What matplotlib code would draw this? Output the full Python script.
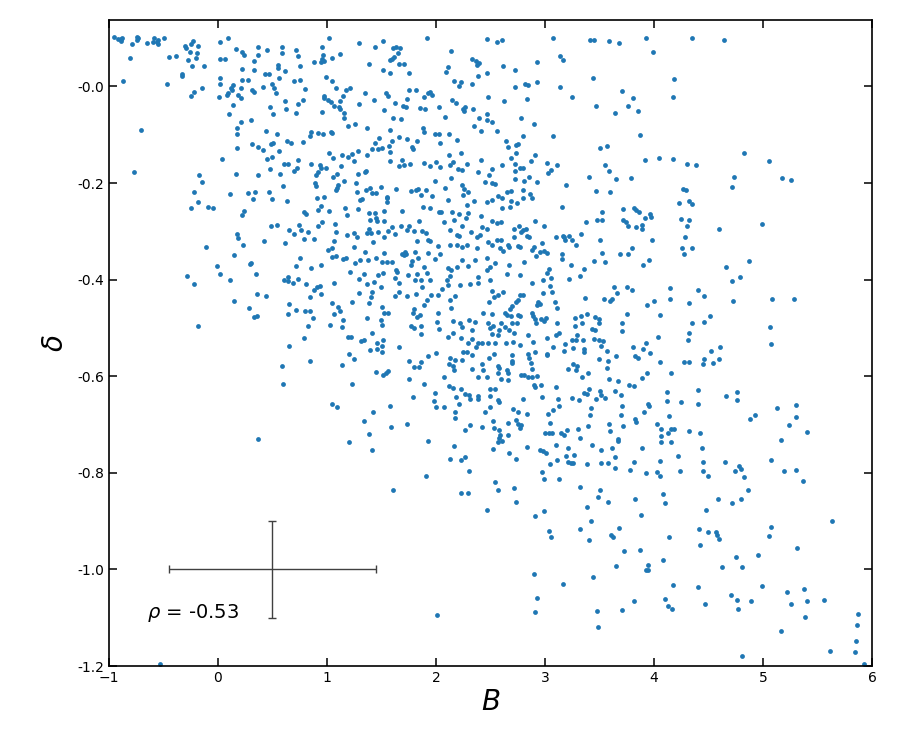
import matplotlib
matplotlib.use("Agg")
import matplotlib.pyplot as plt
import numpy as np

# ---- data, grouped by region ----
b_r1c1 = [-0.954,-0.915,-0.893,-0.884,-0.890,-0.746,-0.731,-0.740,-0.792,-0.646,
          -0.584,-0.594,-0.563,-0.554,-0.548,-0.493,-0.808,-0.869,-0.450,-0.389,
          -0.471,-0.303,-0.297,-0.248,-0.227,-0.181,-0.257,-0.196,-0.205,-0.272,
          -0.236,-0.129,-0.328,-0.334,-0.150,-0.217,-0.248,-0.701,-0.774,0.018,
          0.088,0.162,0.217,0.238,0.370,0.452,0.584,0.590,0.712,0.731,
          0.021,0.064,0.223,0.330,0.370,0.431,0.468,0.333,0.553,0.553,
          0.614,0.559,0.018,0.018,0.134,0.119,0.125,0.094,0.009,0.079,
          0.180,0.211,0.217,0.278,0.309,0.330,0.410,0.498,0.514,0.529,
          0.700,0.752,0.211,0.137,0.101,0.208,0.299,0.480,0.501,0.614,
          0.621,0.712,0.737,0.177,0.177,0.171,0.039,0.312,0.370,0.413,
          0.437,0.538,0.483,0.507,0.559,0.492,0.452,0.633,0.666,0.731,
          0.721,0.700,0.639,0.608,0.477,0.568,0.165,0.367,-0.175,-0.150,
          0.593,-0.221,-0.181,-0.248,-0.095,-0.043,0.113,0.272,0.339,0.321,
          0.471,0.498,0.636,0.235,0.220,0.486,0.544,0.651,0.700,0.171,
          0.743]
d_r1c1 = [0.102,0.099,0.098,0.101,0.094,0.103,0.101,0.097,0.087,0.090,
          0.101,0.091,0.091,0.097,0.087,0.101,0.059,0.011,0.061,0.063,
          0.005,0.084,0.080,0.087,0.094,0.083,0.072,0.070,0.059,0.055,
          0.042,0.042,0.025,0.021,-0.003,-0.011,-0.019,-0.091,-0.177,0.092,
          0.101,0.077,0.072,0.065,0.082,0.075,0.081,0.070,0.075,0.063,
          0.056,0.056,0.036,0.053,0.065,0.026,0.025,0.034,0.044,0.039,
          0.032,0.018,0.018,0.006,0.003,-0.004,-0.008,-0.014,-0.022,-0.018,
          -0.017,-0.004,0.013,0.013,-0.008,-0.011,-0.001,0.006,-0.004,-0.014,
          0.012,0.013,-0.025,-0.039,-0.058,-0.073,-0.070,-0.042,-0.057,-0.030,
          -0.047,-0.056,-0.037,-0.087,-0.099,-0.127,-0.151,-0.120,-0.126,-0.132,
          -0.092,-0.099,-0.120,-0.117,-0.134,-0.146,-0.151,-0.113,-0.118,-0.152,
          -0.168,-0.175,-0.160,-0.161,-0.170,-0.181,-0.182,-0.184,-0.183,-0.197,
          -0.207,-0.218,-0.239,-0.252,-0.250,-0.251,-0.222,-0.220,-0.218,-0.233,
          -0.218,-0.233,-0.237,-0.258,-0.266,-0.288,-0.286,-0.297,-0.306,-0.306,
          -0.286]

b_r1c2 = [1.021,1.296,1.516,1.443,1.914,2.471,0.957,0.966,0.951,0.945,
          0.975,0.880,1.048,1.122,0.755,1.608,1.633,1.669,1.648,1.611,
          1.578,1.593,1.663,1.703,1.385,1.510,1.578,1.749,2.137,2.110,
          2.091,2.162,2.226,2.214,2.327,2.367,2.397,2.373,2.382,2.471,
          2.333,0.990,1.042,1.085,1.171,1.211,1.149,1.122,1.110,1.159,
          1.152,1.195,1.256,0.969,0.975,1.012,1.033,1.067,1.116,0.954,
          0.801,0.782,1.345,1.428,1.290,1.519,1.538,1.559,1.623,1.694,
          1.724,1.730,1.755,1.813,1.886,1.929,1.945,1.963,1.850,1.902,
          2.030,2.143,2.183,2.247,2.269,2.257,2.336,2.079,2.397,2.351,
          2.480,2.464,1.602,1.675,1.363,1.575,1.480,1.437,1.464,1.501,
          1.571,1.599,1.657,1.737,1.776,1.789,1.822,1.883,1.889,1.987,
          2.027,2.036,2.122,2.195,2.412,2.467,0.776,0.856,0.841,0.920,
          0.966,1.036,1.048,1.021,1.052,1.140,1.189,1.232,1.244,1.287,
          1.363,1.412,1.575,1.575,1.691,1.663,1.709,1.764,1.893,1.945,
          2.003,2.036,2.119,2.226,2.125,2.156,2.198,2.235,2.287,2.415,
          2.382,2.446,2.489,0.853,0.932,0.945,0.990,0.917,0.899,0.889,
          0.899,1.128,1.094,1.058,1.101,1.159,1.287,1.348,1.360,1.269,
          1.278,1.305,1.287,1.324,1.360,1.391,1.415,1.452,1.495,1.553,
          1.547,1.553,1.633,1.770,1.813,1.838,1.862,1.908,1.963,1.883,
          1.945,1.987,2.085,2.113,2.140,2.238,2.253,2.293,2.247,2.287,
          2.345,2.467,2.412,0.908,0.972,0.914,0.804,0.786,0.945,1.018,
          1.079,1.091,1.165,1.183,1.385,1.391,1.443,1.449,1.458,1.526,
          1.526,1.385,1.464,1.562,1.593,1.685,1.679,1.730,1.795,1.755,
          1.844,1.868,2.024,2.042,2.076,2.165,2.146,2.210,2.235,2.272,
          2.296,2.324,2.419,2.467,0.764,0.828,0.920,0.951,1.073,1.082,
          1.180,1.250,1.275,1.370,1.403,1.526,1.623,1.905,2.125,2.189,
          2.214,2.373,2.403]
d_r1c2 = [0.101,0.090,0.095,0.081,0.101,0.098,0.082,0.066,0.056,0.051,
          0.052,0.051,0.058,0.067,0.043,0.080,0.082,0.080,0.070,0.061,
          0.054,0.057,0.047,0.046,0.046,0.034,0.027,0.027,0.074,0.041,
          0.029,0.012,0.010,0.001,0.056,0.052,0.049,0.044,0.022,0.027,
          0.005,0.020,0.012,-0.004,-0.008,-0.004,-0.019,-0.030,-0.043,-0.056,
          -0.065,-0.081,-0.077,-0.019,-0.023,-0.028,-0.032,-0.040,-0.047,-0.053,
          -0.006,-0.028,-0.014,-0.028,-0.037,-0.048,-0.014,-0.019,-0.034,-0.040,
          -0.043,-0.026,-0.008,-0.008,-0.022,-0.014,-0.012,-0.018,-0.044,-0.046,
          -0.042,-0.029,-0.034,-0.046,-0.043,-0.051,-0.047,-0.063,-0.066,-0.081,
          -0.022,-0.058,-0.066,-0.067,-0.087,-0.090,-0.106,-0.118,-0.130,-0.127,
          -0.123,-0.112,-0.104,-0.109,-0.126,-0.130,-0.112,-0.087,-0.094,-0.098,
          -0.099,-0.117,-0.099,-0.111,-0.092,-0.070,-0.116,-0.095,-0.103,-0.096,
          -0.098,-0.094,-0.097,-0.137,-0.148,-0.141,-0.146,-0.139,-0.154,-0.134,
          -0.142,-0.129,-0.135,-0.155,-0.152,-0.165,-0.163,-0.161,-0.159,-0.164,
          -0.156,-0.166,-0.141,-0.137,-0.163,-0.157,-0.171,-0.173,-0.160,-0.153,
          -0.178,-0.197,-0.183,-0.160,-0.163,-0.168,-0.168,-0.177,-0.183,-0.201,
          -0.206,-0.164,-0.182,-0.188,-0.204,-0.196,-0.182,-0.178,-0.175,-0.199,
          -0.219,-0.235,-0.253,-0.233,-0.214,-0.210,-0.221,-0.220,-0.208,-0.228,
          -0.232,-0.239,-0.212,-0.217,-0.214,-0.213,-0.225,-0.214,-0.226,-0.250,
          -0.251,-0.196,-0.210,-0.235,-0.189,-0.204,-0.212,-0.218,-0.225,-0.246,
          -0.237,-0.239,-0.268,-0.231,-0.228,-0.255,-0.265,-0.261,-0.247,-0.258,
          -0.215,-0.210,-0.252,-0.266,-0.263,-0.277,-0.263,-0.272,-0.278,-0.258,
          -0.278,-0.295,-0.301,-0.299,-0.291,-0.258,-0.288,-0.297,-0.299,-0.290,
          -0.279,-0.299,-0.259,-0.259,-0.280,-0.277,-0.261,-0.265,-0.290,-0.272,
          -0.262,-0.301,-0.291,-0.295,-0.297,-0.301,-0.290,-0.280,-0.284,-0.302,
          -0.308,-0.303,-0.311,-0.304,-0.304,-0.311,-0.306,-0.304,-0.298,-0.308,
          -0.309,-0.311,-0.308]

b_r1c3 = [2.557,2.609,3.077,3.416,3.453,3.588,3.679,3.930,3.994,2.924,
          2.618,2.728,3.135,3.166,3.444,2.725,2.817,2.841,2.930,3.138,
          3.248,2.624,2.838,3.707,3.808,3.762,3.857,3.640,3.468,4.184,
          4.178,2.517,2.563,2.780,2.900,2.640,2.658,2.734,2.753,2.796,
          3.077,3.872,3.508,3.569,2.692,2.731,2.906,2.875,3.019,3.107,
          3.025,3.055,2.728,2.606,2.511,2.768,2.799,2.722,2.854,2.722,
          2.811,2.930,2.511,2.542,3.404,3.551,3.588,3.649,3.786,3.915,
          4.043,4.175,3.193,2.799,2.860,2.566,2.649,2.685,2.603,2.689,
          2.517,2.679,2.609,2.744,2.802,2.881,3.159,3.471,3.600,3.520,
          3.478,3.526,3.719,3.814,3.835,3.863,3.719,3.744,3.918,3.961,
          3.976,3.890,3.893,3.832,3.759,3.377,3.328,2.909,2.991,2.759,
          2.719,2.802,2.829,2.780,2.832,2.857,2.517,2.557,2.600,3.104,
          3.163,3.178,3.224,2.719]
d_r1c3 = [0.092,0.096,0.101,0.096,0.097,0.094,0.090,0.101,0.072,0.051,
          0.043,0.034,0.063,0.054,0.018,-0.001,0.005,0.003,0.009,-0.002,
          -0.022,-0.030,-0.026,-0.009,-0.025,-0.040,-0.051,-0.056,-0.041,0.016,
          -0.022,-0.074,-0.092,-0.065,-0.078,-0.112,-0.126,-0.121,-0.120,-0.102,
          -0.103,-0.101,-0.128,-0.123,-0.148,-0.137,-0.142,-0.155,-0.158,-0.163,
          -0.179,-0.174,-0.161,-0.163,-0.171,-0.168,-0.169,-0.176,-0.188,-0.192,
          -0.196,-0.198,-0.201,-0.203,-0.188,-0.163,-0.176,-0.192,-0.189,-0.152,
          -0.148,-0.150,-0.204,-0.214,-0.223,-0.226,-0.219,-0.217,-0.232,-0.237,
          -0.236,-0.250,-0.251,-0.241,-0.230,-0.232,-0.249,-0.216,-0.219,-0.259,
          -0.276,-0.277,-0.253,-0.252,-0.255,-0.261,-0.276,-0.280,-0.273,-0.265,
          -0.270,-0.287,-0.295,-0.292,-0.290,-0.280,-0.305,-0.279,-0.290,-0.288,
          -0.295,-0.297,-0.295,-0.302,-0.309,-0.311,-0.279,-0.283,-0.281,-0.311,
          -0.310,-0.311,-0.309,-0.311]

b_r1c4 = [4.352,4.643,4.826,5.055,4.300,4.386,4.737,4.716,5.175,5.257,
          4.269,4.291,4.227,4.324,4.346,4.248,4.324,4.300,4.600,4.994,
          4.288]
d_r1c4 = [0.101,0.097,-0.137,-0.154,-0.160,-0.163,-0.188,-0.209,-0.190,-0.193,
          -0.212,-0.215,-0.242,-0.237,-0.243,-0.274,-0.277,-0.290,-0.295,-0.284,
          -0.311]

b_r2c1 = [0.180,-0.113,0.226,0.419,0.614,0.150,-0.006,0.299,0.293,0.712,
          0.752,-0.288,-0.217,0.021,0.113,0.348,0.605,0.645,0.639,0.691,
          0.731,0.354,0.437,0.143,0.284,0.330,0.361,0.654,0.645,0.715,
          -0.181,0.654,0.584,0.599,0.364,-0.532]
d_r2c1 = [-0.314,-0.333,-0.329,-0.321,-0.324,-0.350,-0.372,-0.365,-0.368,-0.371,
          -0.355,-0.392,-0.409,-0.388,-0.400,-0.389,-0.400,-0.395,-0.402,-0.407,
          -0.398,-0.430,-0.433,-0.444,-0.459,-0.477,-0.475,-0.450,-0.471,-0.462,
          -0.496,-0.537,-0.579,-0.617,-0.729,-1.196]

b_r2c2 = [0.792,0.883,1.064,1.244,1.012,1.048,1.042,1.079,1.149,1.171,
          1.348,1.425,1.526,1.712,1.703,1.724,1.685,1.804,1.822,1.923,
          1.945,2.015,2.128,2.192,2.235,2.281,2.379,2.480,0.856,0.945,
          1.211,1.260,1.302,1.379,1.446,1.507,1.550,1.593,1.639,1.770,
          1.782,1.831,1.893,1.926,1.990,2.036,2.107,2.134,2.192,2.235,
          2.296,2.357,2.464,2.495,0.804,0.908,0.935,0.883,0.941,0.847,
          1.067,1.293,1.342,1.363,1.428,1.415,1.464,1.498,1.516,1.620,
          1.630,1.660,1.740,1.807,1.825,1.859,1.868,1.914,1.945,2.052,
          2.104,2.113,2.131,2.220,2.308,2.388,2.382,2.471,2.495,0.798,
          0.844,0.868,1.042,1.097,1.067,1.119,1.149,1.027,0.828,0.792,
          1.137,1.232,1.296,1.403,1.385,1.367,1.504,1.495,1.504,1.526,
          1.559,1.663,1.620,1.737,1.813,1.798,1.786,1.825,1.856,1.773,
          1.798,1.862,1.859,1.914,1.893,1.954,2.021,2.021,2.012,2.027,
          2.131,2.137,2.177,2.152,2.220,2.235,2.299,2.360,2.327,2.431,
          2.474,2.495,2.113,2.156,2.229,2.327,2.382,2.290,2.370,2.425,
          2.474,1.217,1.195,1.311,1.342,1.409,1.510,1.455,1.501,1.397,
          1.461,1.507,1.663,1.996,2.131,2.171,2.235,2.327,2.247,2.287,
          2.422,2.486,0.844,1.140,1.201,1.247,1.449,1.516,1.538,1.559,
          1.749,1.795,1.844,1.862,1.923,1.755,1.886,2.070,2.119,2.152,
          2.168,2.327,2.388,2.434,2.464,1.232,1.045,1.088,1.792,1.990,
          1.981,1.999,2.070,2.116,2.152,2.183,2.226,2.266,2.302,2.308,
          2.382,2.388,2.214,2.174,2.174,2.266,2.311,2.452,2.422,2.495,
          1.581,1.419,1.339,1.385,1.584,1.730,1.204,1.929,2.168]
d_r2c2 = [-0.316,-0.316,-0.320,-0.333,-0.339,-0.335,-0.354,-0.351,-0.357,-0.356,
          -0.342,-0.323,-0.344,-0.342,-0.349,-0.347,-0.346,-0.342,-0.321,-0.318,
          -0.321,-0.330,-0.328,-0.328,-0.332,-0.328,-0.334,-0.323,-0.375,-0.370,
          -0.385,-0.366,-0.359,-0.359,-0.356,-0.364,-0.364,-0.364,-0.384,-0.370,
          -0.361,-0.356,-0.373,-0.344,-0.357,-0.348,-0.375,-0.380,-0.373,-0.359,
          -0.371,-0.359,-0.356,-0.373,-0.409,-0.415,-0.413,-0.421,-0.430,-0.437,
          -0.406,-0.398,-0.388,-0.409,-0.404,-0.425,-0.391,-0.416,-0.386,-0.397,
          -0.380,-0.406,-0.391,-0.400,-0.388,-0.400,-0.416,-0.387,-0.401,-0.419,
          -0.401,-0.411,-0.393,-0.412,-0.410,-0.394,-0.408,-0.380,-0.401,-0.466,
          -0.466,-0.479,-0.449,-0.456,-0.472,-0.465,-0.484,-0.495,-0.496,-0.520,
          -0.498,-0.446,-0.428,-0.435,-0.448,-0.480,-0.456,-0.484,-0.495,-0.470,
          -0.470,-0.425,-0.433,-0.434,-0.430,-0.461,-0.470,-0.477,-0.474,-0.496,
          -0.501,-0.496,-0.513,-0.442,-0.452,-0.432,-0.432,-0.470,-0.488,-0.503,
          -0.442,-0.459,-0.434,-0.486,-0.489,-0.499,-0.484,-0.487,-0.505,-0.470,
          -0.490,-0.501,-0.518,-0.511,-0.521,-0.522,-0.532,-0.532,-0.539,-0.532,
          -0.532,-0.518,-0.519,-0.528,-0.524,-0.511,-0.525,-0.532,-0.537,-0.546,
          -0.544,-0.550,-0.539,-0.551,-0.563,-0.566,-0.566,-0.556,-0.550,-0.550,
          -0.575,-0.563,-0.568,-0.577,-0.553,-0.564,-0.592,-0.597,-0.594,-0.589,
          -0.568,-0.581,-0.581,-0.570,-0.559,-0.605,-0.616,-0.602,-0.575,-0.579,
          -0.588,-0.586,-0.602,-0.588,-0.601,-0.616,-0.657,-0.663,-0.644,-0.634,
          -0.651,-0.663,-0.664,-0.621,-0.624,-0.643,-0.626,-0.637,-0.639,-0.647,
          -0.640,-0.648,-0.657,-0.675,-0.686,-0.711,-0.701,-0.674,-0.706,-0.663,
          -0.662,-0.675,-0.692,-0.719,-0.706,-0.699,-0.737,-0.735,-0.744]

b_r2c3 = [2.557,2.597,2.511,2.588,2.612,2.658,2.670,2.756,2.774,2.878,
          2.903,2.915,2.955,2.988,3.019,2.970,3.159,3.159,3.184,3.245,
          3.288,3.502,3.526,3.551,3.453,3.692,3.765,3.802,3.979,3.958,
          3.903,2.542,2.673,2.808,2.649,2.771,3.040,3.019,3.052,2.979,
          2.878,3.049,3.062,2.979,3.236,3.358,3.318,3.221,3.637,3.753,
          3.802,3.658,3.600,3.612,3.542,3.370,2.511,2.536,2.572,2.490,
          2.618,2.695,2.731,2.750,2.771,2.796,2.679,2.939,2.924,2.955,
          2.878,2.893,2.909,2.918,2.964,2.994,3.013,3.092,3.114,3.276,
          3.331,3.383,3.337,3.276,3.459,3.499,3.496,3.429,3.459,2.511,
          2.633,2.655,2.692,2.750,2.768,2.597,2.695,2.741,2.633,2.673,
          2.526,2.581,2.517,2.719,2.841,3.107,3.129,3.098,3.019,2.893,
          2.771,2.710,2.640,2.572,2.542,3.291,3.245,3.288,3.187,3.349,
          3.453,3.499,3.530,3.514,3.260,3.361,3.355,3.175,3.077,3.022,
          3.016,2.909,2.841,2.857,2.872,2.695,2.701,2.701,2.533,3.710,
          3.710,3.753,4.040,4.059,3.933,4.000,4.147,4.150,3.811,3.896,
          3.927,3.961,3.826,3.851,3.566,3.581,3.499,3.569,3.649,3.257,
          3.297,3.288,3.398,3.337,3.215,2.566,2.581,2.649,2.658,2.566,
          2.597,2.664,2.499,2.542,2.777,2.805,2.881,2.848,2.884,2.930,
          2.896,2.909,2.964,3.098,3.588,3.667,3.771,3.814,3.887,3.936,
          4.059,4.156,2.496,2.572,2.578,2.802,2.976,3.123,3.126,3.251,
          3.315,3.389,3.358,3.407,3.505,3.511,3.551,3.643,3.698,3.704,
          3.471,3.419,3.413,3.395,3.300,3.202,3.147,3.175,3.000,3.037,
          3.062,3.049,3.031,3.071,2.832,2.750,2.704,2.731,2.658,2.756,
          2.780,2.771,2.578,2.536,2.588,2.578,2.566,2.603,2.658,2.526,
          3.322,3.429,3.215,3.098,2.955,2.835,2.526,3.514,3.612,3.673,
          3.667,3.695,3.591,3.597,3.713,3.829,3.832,3.909,3.948,3.955,
          4.031,4.068,4.062,4.129,4.141,4.159,4.184,4.120,4.123,4.062,
          4.153,3.887]
d_r2c3 = [-0.318,-0.317,-0.328,-0.335,-0.340,-0.328,-0.332,-0.330,-0.333,-0.339,
          -0.332,-0.351,-0.342,-0.340,-0.344,-0.325,-0.347,-0.357,-0.318,-0.317,
          -0.329,-0.319,-0.344,-0.364,-0.361,-0.346,-0.348,-0.335,-0.319,-0.359,
          -0.370,-0.366,-0.369,-0.364,-0.388,-0.390,-0.377,-0.387,-0.396,-0.401,
          -0.406,-0.413,-0.425,-0.427,-0.370,-0.378,-0.392,-0.399,-0.415,-0.415,
          -0.421,-0.428,-0.444,-0.441,-0.441,-0.438,-0.423,-0.435,-0.432,-0.447,
          -0.425,-0.454,-0.446,-0.442,-0.432,-0.431,-0.461,-0.446,-0.453,-0.451,
          -0.470,-0.475,-0.482,-0.489,-0.481,-0.485,-0.480,-0.447,-0.459,-0.480,
          -0.475,-0.472,-0.489,-0.497,-0.477,-0.481,-0.490,-0.503,-0.504,-0.471,
          -0.470,-0.474,-0.476,-0.473,-0.475,-0.489,-0.489,-0.489,-0.499,-0.504,
          -0.497,-0.504,-0.513,-0.510,-0.515,-0.490,-0.511,-0.515,-0.520,-0.530,
          -0.535,-0.530,-0.532,-0.515,-0.532,-0.515,-0.524,-0.526,-0.534,-0.524,
          -0.522,-0.524,-0.527,-0.537,-0.542,-0.544,-0.549,-0.548,-0.539,-0.553,
          -0.556,-0.549,-0.553,-0.563,-0.572,-0.556,-0.568,-0.573,-0.553,-0.490,
          -0.506,-0.471,-0.519,-0.473,-0.452,-0.444,-0.418,-0.441,-0.540,-0.544,
          -0.532,-0.551,-0.559,-0.563,-0.548,-0.568,-0.564,-0.583,-0.559,-0.575,
          -0.579,-0.587,-0.594,-0.601,-0.586,-0.579,-0.584,-0.587,-0.593,-0.594,
          -0.606,-0.608,-0.626,-0.626,-0.597,-0.597,-0.586,-0.602,-0.602,-0.599,
          -0.618,-0.623,-0.619,-0.623,-0.606,-0.610,-0.618,-0.621,-0.604,-0.594,
          -0.570,-0.593,-0.641,-0.649,-0.654,-0.647,-0.644,-0.647,-0.661,-0.646,
          -0.650,-0.637,-0.635,-0.627,-0.630,-0.639,-0.646,-0.630,-0.639,-0.661,
          -0.647,-0.665,-0.680,-0.704,-0.709,-0.712,-0.718,-0.721,-0.718,-0.717,
          -0.718,-0.696,-0.678,-0.670,-0.678,-0.675,-0.668,-0.690,-0.696,-0.699,
          -0.701,-0.708,-0.711,-0.708,-0.721,-0.728,-0.737,-0.735,-0.722,-0.693,
          -0.728,-0.743,-0.749,-0.743,-0.753,-0.746,-0.751,-0.753,-0.749,-0.735,
          -0.730,-0.680,-0.699,-0.713,-0.703,-0.689,-0.694,-0.675,-0.657,-0.661,
          -0.699,-0.710,-0.724,-0.717,-0.682,-0.710,-0.709,-0.633,-0.651,-0.737,
          -0.737,-0.749]

b_r2c4 = [4.254,4.352,4.276,4.661,4.872,4.719,4.789,4.401,4.459,4.321,
          4.728,5.083,5.288,4.517,4.352,4.459,4.318,4.309,5.065,5.077,
          4.526,4.603,4.273,4.321,4.447,4.462,4.542,4.594,4.401,4.248,
          4.407,4.664,4.762,4.759,5.126,5.303,4.884,4.930,5.300,5.242,
          5.407,5.169,4.318,4.419,4.444]
d_r2c4 = [-0.335,-0.335,-0.347,-0.373,-0.361,-0.402,-0.395,-0.422,-0.434,-0.448,
          -0.445,-0.440,-0.441,-0.475,-0.490,-0.488,-0.510,-0.525,-0.498,-0.533,
          -0.547,-0.540,-0.571,-0.570,-0.575,-0.564,-0.573,-0.564,-0.628,-0.654,
          -0.657,-0.641,-0.633,-0.650,-0.666,-0.659,-0.688,-0.680,-0.684,-0.700,
          -0.715,-0.733,-0.713,-0.718,-0.748]

b_r3c2 = [1.412,1.602,1.908,2.125,2.226,2.266,2.299,2.226,2.296,2.471,
          2.006]
d_r3c2 = [-0.753,-0.835,-0.806,-0.771,-0.774,-0.767,-0.796,-0.841,-0.841,-0.878,
          -1.095]

b_r3c3 = [2.673,2.734,2.979,3.010,3.043,3.107,3.196,3.270,3.215,3.239,
          3.260,3.386,3.514,3.575,3.646,3.640,3.777,3.817,3.924,4.059,
          4.031,4.059,2.976,2.994,3.132,2.542,2.566,2.716,2.731,2.906,
          2.991,3.318,3.502,3.484,3.575,3.826,4.083,4.104,3.386,3.419,
          3.884,3.040,3.059,3.318,3.401,3.606,3.621,3.676,4.141,3.722,
          3.869,3.649,3.945,3.930,3.948,4.083,2.896,3.163,3.438,4.175,
          2.927,2.906,3.481,3.707,3.814,4.104,4.129,4.169,3.484]
d_r3c3 = [-0.759,-0.771,-0.755,-0.759,-0.782,-0.774,-0.766,-0.763,-0.777,-0.779,
          -0.780,-0.781,-0.779,-0.779,-0.768,-0.791,-0.794,-0.777,-0.800,-0.776,
          -0.799,-0.806,-0.798,-0.813,-0.812,-0.820,-0.836,-0.832,-0.861,-0.890,
          -0.879,-0.830,-0.835,-0.851,-0.861,-0.855,-0.843,-0.863,-0.871,-0.899,
          -0.888,-0.921,-0.932,-0.917,-0.940,-0.928,-0.932,-0.914,-0.932,-0.961,
          -0.959,-0.992,-0.991,-1.001,-1.001,-0.981,-1.010,-1.030,-1.016,-1.032,
          -1.059,-1.088,-1.086,-1.084,-1.066,-1.061,-1.076,-1.082,-1.119]

b_r3c4 = [4.224,4.239,4.450,4.447,4.499,4.655,4.746,4.783,4.795,4.826,
          5.077,5.190,5.306,5.370,4.860,4.584,4.719,4.802,4.480,5.636,
          4.413,4.499,4.572,4.581,4.597,4.425,5.071,5.052,5.312,4.750,
          4.951,4.627,4.811,4.407,4.988,4.710,4.765,4.771,4.887,4.468,
          5.224,5.260,5.376,5.407,5.563,5.380,5.162,5.872,5.860,5.851,
          5.618,5.841,4.808,5.924]
d_r3c4 = [-0.765,-0.796,-0.777,-0.796,-0.807,-0.777,-0.797,-0.786,-0.792,-0.808,
          -0.774,-0.796,-0.795,-0.816,-0.836,-0.855,-0.863,-0.855,-0.878,-0.900,
          -0.917,-0.923,-0.923,-0.928,-0.938,-0.950,-0.913,-0.930,-0.956,-0.975,
          -0.970,-0.994,-0.994,-1.036,-1.035,-1.052,-1.063,-1.081,-1.066,-1.071,
          -1.047,-1.072,-1.041,-1.066,-1.063,-1.099,-1.128,-1.093,-1.115,-1.148,
          -1.168,-1.170,-1.180,-1.195]

# representative uncertainty and correlation annotation
err_center_B = [0.5]
err_center_d = [-1.0]
err_B = [0.95]
err_d = [0.1]
rho_label = r"$\rho$ = -0.53"

b_groups = [b_r1c1, b_r1c2, b_r1c3, b_r1c4, b_r2c1, b_r2c2, b_r2c3, b_r2c4,
            b_r3c2, b_r3c3, b_r3c4]
d_groups = [d_r1c1, d_r1c2, d_r1c3, d_r1c4, d_r2c1, d_r2c2, d_r2c3, d_r2c4,
            d_r3c2, d_r3c3, d_r3c4]
B = np.concatenate([np.asarray(b[:min(len(b), len(d))]) for b, d in zip(b_groups, d_groups)])
D = np.concatenate([np.asarray(d[:min(len(b), len(d))]) for b, d in zip(b_groups, d_groups)])

fig = plt.figure(figsize=(9, 7.5), dpi=100)
ax = fig.add_axes([0.121, 0.112, 0.848, 0.861])
ax.scatter(B, D, s=12, color="#1f77b4", linewidths=0, zorder=2)
ax.errorbar(err_center_B, err_center_d, xerr=err_B, yerr=err_d, fmt="none",
            ecolor="#404040", elinewidth=1.0, capsize=3, capthick=1.0, zorder=3)
ax.text(-0.65, -1.09, rho_label, fontsize=14, ha="left", va="center")

ax.set_xlim(-1, 6)
ax.set_ylim(-1.2, 0.137)
ax.set_xticks(np.arange(-1, 7, 1))
ax.set_yticks(np.arange(-1.2, 0.01, 0.2))
ax.yaxis.set_major_formatter(matplotlib.ticker.FormatStrFormatter("%.1f"))
ax.tick_params(direction="in", top=True, right=True, length=6, width=1.1,
               labelsize=10)
for s in ax.spines.values():
    s.set_linewidth(1.2)
ax.set_xlabel(r"$B$", fontsize=20, labelpad=2)
ax.set_ylabel(r"$\delta$", fontsize=20, labelpad=6)

fig.savefig("out.png", dpi=100)
